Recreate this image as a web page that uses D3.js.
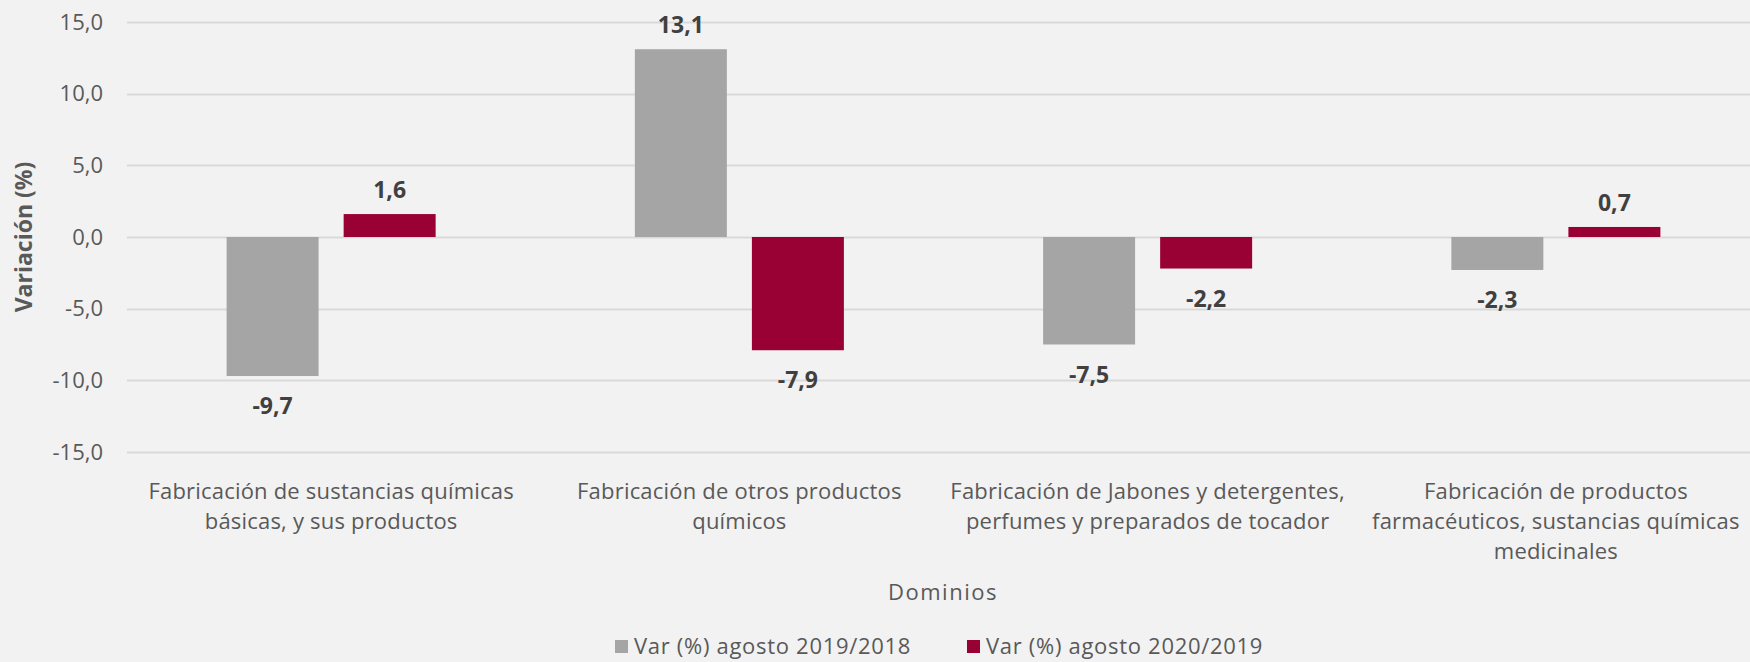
<!DOCTYPE html>
<html>
<head>
<meta charset="utf-8">
<script src="https://cdn.jsdelivr.net/npm/d3@7"></script>
<style>
  html, body { margin: 0; padding: 0; background: #F2F2F2; }
  svg { display: block; font-family: "Open Sans", "Noto Sans", sans-serif; }
</style>
</head>
<body>
<svg></svg>
<script>
// data
var categories = [
  ["Fabricación de sustancias químicas", "básicas, y sus productos"],
  ["Fabricación de otros productos", "químicos"],
  ["Fabricación de Jabones y detergentes,", "perfumes y preparados de tocador"],
  ["Fabricación de productos", "farmacéuticos, sustancias químicas", "medicinales"]
];
var seriesNames = ["Var (%) agosto 2019/2018", "Var (%) agosto 2020/2019"];
var var2019 = [-9.7, 13.1, -7.5, -2.3];
var var2020 = [1.6, -7.9, -2.2, 0.7];
var yTicks = [-15, -10, -5, 0, 5, 10, 15];
var colors = ["#A5A5A5", "#990033"];

var screen = {width: 1750, height: 662};
var margin = {left: 127, right: -10, top: 22, bottom: 210};

var svg = d3.select("svg")
  .attr("width", screen.width)
  .attr("height", screen.height);

svg.append("rect")
  .attr("width", screen.width)
  .attr("height", screen.height)
  .attr("fill", "#F2F2F2");

var fmt = function(v) { return d3.format(".1f")(v).replace(".", ",").replace("−", "-"); };

var x0 = d3.scaleBand()
  .domain(d3.range(categories.length))
  .range([margin.left, screen.width - margin.right])
  .padding(0);

var bw = x0.bandwidth();
var x1 = d3.scaleBand()
  .domain([0, 1])
  .range([bw * 0.244, bw * 0.756])
  .paddingInner(0.214);

var y = d3.scaleLinear()
  .domain([-15, 15])
  .range([screen.height - margin.bottom, margin.top]);

// gridlines
svg.append("g")
  .selectAll("line")
  .data(yTicks)
  .enter()
  .append("line")
  .attr("x1", margin.left)
  .attr("x2", screen.width)
  .attr("y1", function(d) { return Math.round(y(d)) + 0.5; })
  .attr("y2", function(d) { return Math.round(y(d)) + 0.5; })
  .attr("stroke", "#D9D9D9")
  .attr("stroke-width", 2);

// y axis labels
var yAxis = d3.axisLeft(y).tickValues(yTicks).tickFormat(fmt).tickSize(0).tickPadding(0);
var gy = svg.append("g")
  .attr("transform", "translate(103,0)")
  .call(yAxis);
gy.select(".domain").remove();
gy.selectAll("text")
  .attr("font-size", 22)
  .attr("font-family", "Open Sans, sans-serif")
  .attr("fill", "#595959");

svg.append("text")
  .attr("transform", "translate(32," + y(0) + ") rotate(-90)")
  .attr("text-anchor", "middle")
  .attr("font-size", 23)
  .attr("font-weight", "bold")
  .attr("fill", "#595959")
  .text("Variación (%)");

// bars
var rows = categories.map(function(c, i) { return [var2019[i], var2020[i]]; });

var groups = svg.append("g")
  .selectAll("g")
  .data(rows)
  .enter()
  .append("g")
  .attr("transform", function(d, i) { return "translate(" + x0(i) + ",0)"; });

groups.selectAll("rect")
  .data(function(d) { return d; })
  .enter()
  .append("rect")
  .attr("x", function(d, j) { return x1(j); })
  .attr("width", x1.bandwidth())
  .attr("y", function(d) { return y(Math.max(0, d)); })
  .attr("height", function(d) { return Math.abs(y(d) - y(0)); })
  .attr("fill", function(d, j) { return colors[j]; });

groups.selectAll(".val")
  .data(function(d) { return d; })
  .enter()
  .append("text")
  .attr("class", "val")
  .attr("x", function(d, j) { return x1(j) + x1.bandwidth() / 2; })
  .attr("y", function(d) { return d >= 0 ? y(d) - 16 : y(d) + 38; })
  .attr("text-anchor", "middle")
  .attr("font-size", 23)
  .attr("font-weight", "bold")
  .attr("fill", "#404040")
  .text(fmt);

// category labels
var xl = svg.append("g")
  .selectAll("text")
  .data(categories)
  .enter()
  .append("text")
  .attr("text-anchor", "middle")
  .attr("font-size", 22)
  .attr("letter-spacing", 0.2)
  .attr("fill", "#595959")
  .attr("transform", function(d, i) { return "translate(" + (x0(i) + bw / 2) + ",499)"; });

xl.selectAll("tspan")
  .data(function(d) { return d; })
  .enter()
  .append("tspan")
  .attr("x", 0)
  .attr("y", function(d, k) { return k * 30; })
  .text(function(d) { return d; });

svg.append("text")
  .attr("x", 943)
  .attr("y", 600)
  .attr("text-anchor", "middle")
  .attr("font-size", 22)
  .attr("letter-spacing", 1.5)
  .attr("fill", "#595959")
  .text("Dominios");

// legend
var legend = svg.append("g")
  .selectAll("g")
  .data(seriesNames)
  .enter()
  .append("g")
  .attr("transform", function(d, i) { return "translate(" + [615, 967][i] + ",646)"; });

legend.append("rect")
  .attr("x", 0)
  .attr("y", -6)
  .attr("width", 13)
  .attr("height", 13)
  .attr("fill", function(d, i) { return colors[i]; });

legend.append("text")
  .attr("x", 19)
  .attr("y", 8)
  .attr("font-size", 22)
  .attr("letter-spacing", 0.7)
  .attr("fill", "#595959")
  .text(function(d) { return d; });
</script>
</body>
</html>
